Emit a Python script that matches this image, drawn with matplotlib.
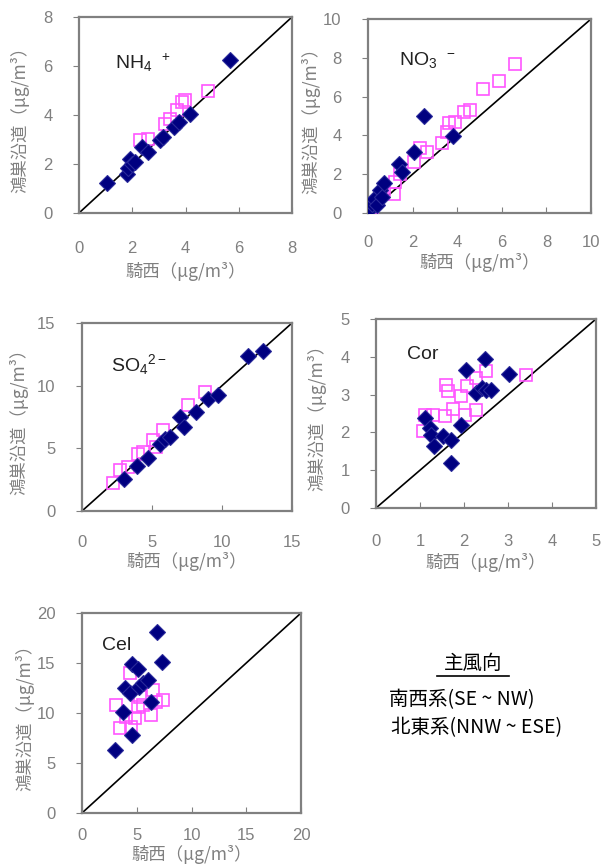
import matplotlib
matplotlib.use("Agg")
import matplotlib.pyplot as plt
from matplotlib.lines import Line2D

# ---------------------------------------------------------------------------
# Data: 騎西 (x) vs 鴻巣沿道 (y)
#   sw_* = 南西系 (open magenta squares), ne_* = 北東系 (navy diamonds)
# ---------------------------------------------------------------------------
nh4_sw_x = [2.3, 2.6, 3.24, 3.42, 3.67, 3.86, 3.99, 4.83]
nh4_sw_y = [2.97, 3.03, 3.65, 3.85, 4.2, 4.53, 4.6, 5.0]
nh4_ne_x = [1.07, 1.79, 1.85, 1.92, 2.0, 2.1, 2.36, 2.6, 3.05, 3.17, 3.55, 3.74, 4.17, 5.66]
nh4_ne_y = [1.22, 1.6, 1.85, 2.2, 2.0, 2.1, 2.69, 2.5, 2.97, 3.1, 3.5, 3.71, 4.05, 6.26]

no3_sw_x = [0.1, 0.18, 0.7, 1.15, 1.23, 1.45, 2.05, 2.35, 2.65, 3.32, 3.54, 3.62, 3.92,
            4.29, 4.59, 5.16, 5.89, 6.6]
no3_sw_y = [0.3, 0.22, 1.17, 1.0, 1.6, 2.03, 2.64, 3.33, 3.16, 3.59, 4.19, 4.62, 4.71,
            5.22, 5.31, 6.38, 6.78, 7.69]
no3_ne_x = [0.1, 0.18, 0.25, 0.4, 0.55, 0.63, 0.7, 1.38, 1.52, 2.05, 2.53, 3.81]
no3_ne_y = [0.22, 0.48, 0.74, 0.4, 1.17, 0.83, 1.55, 2.55, 2.12, 3.16, 5.0, 3.97]

so4_sw_x = [2.21, 2.69, 3.29, 4.0, 4.36, 5.07, 5.3, 5.79, 7.57, 8.76]
so4_sw_y = [2.23, 3.24, 3.5, 4.57, 4.7, 5.64, 5.1, 6.44, 8.43, 9.5]
so4_ne_x = [3.0, 3.95, 4.71, 5.55, 5.9, 6.26, 6.98, 7.26, 8.17, 9.0, 9.71, 11.86, 12.93]
so4_ne_y = [2.53, 3.56, 4.26, 5.37, 5.77, 5.9, 7.5, 6.7, 7.9, 8.96, 9.23, 12.34, 12.74]

cor_sw_x = [1.07, 1.11, 1.3, 1.56, 1.6, 1.64, 1.75, 1.94, 2.02, 2.06, 2.28, 2.28, 2.51, 3.42]
cor_sw_y = [2.03, 2.47, 2.47, 2.43, 3.26, 3.09, 2.62, 2.95, 2.47, 3.22, 2.6, 3.44, 3.62, 3.53]
cor_ne_x = [1.11, 1.22, 1.26, 1.32, 1.53, 1.71, 1.71, 1.93, 2.04, 2.28, 2.4, 2.47, 2.51, 2.62, 3.03]
cor_ne_y = [2.38, 2.12, 1.94, 1.63, 1.9, 1.81, 1.19, 2.2, 3.64, 3.04, 3.17, 3.95, 3.13, 3.11, 3.55]

cel_sw_x = [3.14, 3.44, 4.05, 4.36, 4.51, 4.82, 5.12, 5.27, 5.58, 6.34, 6.49, 6.8, 7.41]
cel_sw_y = [10.8, 8.46, 9.63, 13.98, 8.63, 9.46, 10.64, 11.64, 10.8, 9.8, 12.3, 11.14, 11.3]
cel_ne_x = [3.05, 3.75, 3.9, 4.36, 4.6, 4.6, 5.12, 5.21, 5.58, 6.07, 6.34, 6.86, 7.35]
cel_ne_y = [6.29, 10.13, 12.47, 11.97, 14.9, 7.79, 14.4, 12.64, 12.98, 13.3, 11.14, 18.06, 15.15]

# ---------------------------------------------------------------------------
W, H = 602, 868
GRAY = "#808080"
NAVY = "#000080"
PINK = "#FF55FF"
CJK = ["Noto Sans CJK JP", "DejaVu Sans"]

plt.rcParams["font.family"] = ["Liberation Sans", "DejaVu Sans"]
plt.rcParams["mathtext.fontset"] = "custom"
plt.rcParams["mathtext.rm"] = "Liberation Sans"
plt.rcParams["mathtext.it"] = "Liberation Sans"

fig = plt.figure(figsize=(W / 100, H / 100), dpi=100, facecolor="white")


def px_axes(left, top, right, bottom):
    return fig.add_axes([left / W, 1 - bottom / H, (right - left) / W, (bottom - top) / H])


# (axes px box, limit, step, name, name pos, ylabel x, xlabel y, x tick pad)
panels = [
    ((79, 17, 292, 213), 8, 2, r"NH$_4$$^{\ \ +}$", (0.17, 0.765), -0.28, -0.30, 20,
     nh4_sw_x, nh4_sw_y, nh4_ne_x, nh4_ne_y),
    ((368, 19, 591, 213), 10, 2, r"NO$_3$$^{\ \ -}$", (0.14, 0.79), -0.256, -0.253, 16,
     no3_sw_x, no3_sw_y, no3_ne_x, no3_ne_y),
    ((82, 323, 292, 511), 15, 5, r"SO$_4$$^{2-}$", (0.14, 0.78), -0.30, -0.271, 17,
     so4_sw_x, so4_sw_y, so4_ne_x, so4_ne_y),
    ((376, 319, 596, 508), 5, 1, "Cor", (0.14, 0.81), -0.27, -0.291, 19,
     cor_sw_x, cor_sw_y, cor_ne_x, cor_ne_y),
    ((82, 613, 301, 813), 20, 5, "Cel", (0.09, 0.84), -0.26, -0.21, 11,
     cel_sw_x, cel_sw_y, cel_ne_x, cel_ne_y),
]

for box, lim, step, name, npos, ylx, xly, xpad, sx, sy, nx, ny in panels:
    ax = px_axes(*box)
    ax.plot(sx, sy, linestyle="none", marker="s", markersize=8.5,
            markerfacecolor="none", markeredgecolor=PINK, markeredgewidth=1.2, zorder=3)
    ax.plot(nx, ny, linestyle="none", marker="D", markersize=8,
            markerfacecolor=NAVY, markeredgecolor="#2a2a9a", markeredgewidth=0.8, zorder=4)
    ax.plot([0, lim], [0, lim], color="black", linewidth=1.2, zorder=2, clip_on=False)

    ax.set_xlim(0, lim)
    ax.set_ylim(0, lim)
    ticks = list(range(0, lim + 1, step))
    ax.set_xticks(ticks)
    ax.set_yticks(ticks)
    for sp in ax.spines.values():
        sp.set_color(GRAY)
        sp.set_linewidth(1.6)
    ax.tick_params(axis="x", direction="in", length=4, color=GRAY, pad=xpad,
                   labelsize=12, labelcolor=GRAY)
    ax.tick_params(axis="y", direction="out", length=4, color=GRAY, pad=15,
                   labelsize=12, labelcolor=GRAY)

    ax.set_xlabel("騎西（μg/m³）", family=CJK, fontsize=12.5, color=GRAY, va="center")
    ax.set_ylabel("鴻巣沿道（μg/m³）", family=CJK, fontsize=12.5, color=GRAY, va="center")
    ax.xaxis.set_label_coords(0.5, xly)
    ax.yaxis.set_label_coords(ylx, 0.5)

    ax.text(npos[0], npos[1], name, transform=ax.transAxes, fontsize=14,
            color="#222222", ha="left", va="center")

# legend text (main wind direction)
fig.text(473 / W, 1 - 663 / H, "主風向", family=CJK, fontsize=14,
         ha="center", va="center", color="black")
fig.add_artist(Line2D([437 / W, 509 / W], [1 - 676 / H, 1 - 676 / H],
                      color="black", linewidth=1.2))
fig.text(389 / W, 1 - 700 / H, "南西系(SE ~ NW)", family=CJK, fontsize=14,
         ha="left", va="center", color="black")
fig.text(391 / W, 1 - 728 / H, "北東系(NNW ~ ESE)", family=CJK, fontsize=14,
         ha="left", va="center", color="black")

fig.savefig("out.png", dpi=100, facecolor="white")
